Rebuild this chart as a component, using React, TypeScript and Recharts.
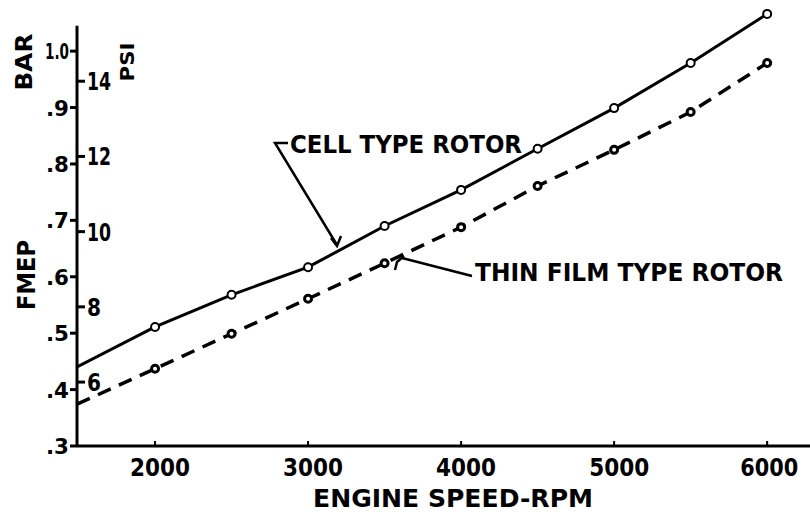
import { Line, LineChart, ReferenceLine, XAxis, YAxis } from 'recharts'

const FONT = '"DejaVu Sans", sans-serif'

const rpm = [1490, 2000, 2500, 3000, 3500, 4000, 4500, 5000, 5500, 6000]
const cellRotor = [0.44, 0.511, 0.568, 0.617, 0.69, 0.754, 0.827, 0.899, 0.979, 1.066]
const thinFilmRotor = [0.374, 0.437, 0.499, 0.561, 0.624, 0.688, 0.761, 0.825, 0.892, 0.979]

const rpmTicks = [2000, 3000, 4000, 5000, 6000]
const barTicks = [0.3, 0.4, 0.5, 0.6, 0.7, 0.8, 0.9, 1.0]
const barLabels = ['.3', '.4', '.5', '.6', '.7', '.8', '.9', '1.0']
const psiTicks = [6, 8, 10, 12, 14]

const data = rpm.map((r, i) => ({ rpm: r, cell: cellRotor[i], thin: thinFilmRotor[i] }))

function XTick({ x, y, payload }: any) {
  const last = payload.value === rpmTicks[rpmTicks.length - 1]
  return (
    <g>
      <line x1={x} y1={y} x2={x} y2={y - 5} stroke="#000" strokeWidth={2} />
      <text
        x={last ? x + 2 : x + 5}
        y={y + 30}
        textAnchor="middle"
        fontFamily={FONT}
        fontWeight="bold"
        fontSize={24}
        textLength={last ? 58 : 60}
        lengthAdjust="spacingAndGlyphs"
      >
        {payload.value}
      </text>
    </g>
  )
}

function BarTick({ x, y, payload }: any) {
  const label = barLabels[barTicks.indexOf(payload.value)]
  return (
    <g>
      <line x1={x - 7} y1={y} x2={x} y2={y} stroke="#000" strokeWidth={3} />
      <text
        x={x - 8}
        y={y + 8}
        textAnchor="end"
        fontFamily={FONT}
        fontWeight="bold"
        fontSize={22}
        textLength={label.length > 2 ? 24 : 23}
        lengthAdjust="spacingAndGlyphs"
      >
        {label}
      </text>
    </g>
  )
}

function PsiTick({ x, y, payload }: any) {
  return (
    <g>
      <line x1={x} y1={y} x2={x + 8} y2={y} stroke="#000" strokeWidth={3} />
      <text
        x={x + 10}
        y={y + 9}
        textAnchor="start"
        fontFamily={FONT}
        fontWeight="bold"
        fontSize={25}
        textLength={payload.value >= 10 ? 24 : 14}
        lengthAdjust="spacingAndGlyphs"
      >
        {payload.value}
      </text>
    </g>
  )
}

function dotFor(kind: 'cell' | 'thin') {
  return (p: any) => {
    if (p.index === 0) return <g key={p.key} />
    return (
      <circle
        key={p.key}
        cx={p.cx}
        cy={p.cy}
        r={kind === 'cell' ? 4 : 3.5}
        fill="#fff"
        stroke="#000"
        strokeWidth={kind === 'cell' ? 2 : 3}
      />
    )
  }
}

export default function App() {
  const txt = { fontFamily: FONT, fontWeight: 'bold' as const }
  return (
    <div style={{ position: 'relative', width: 810, height: 512, background: '#fff' }}>
      <style>{'body{margin:0}'}</style>
      <LineChart width={810} height={512} data={data} margin={{ top: 6, right: 0, left: 0, bottom: 0 }}>
        <XAxis
          dataKey="rpm"
          type="number"
          domain={[1490, 6280]}
          allowDataOverflow
          ticks={rpmTicks}
          interval={0}
          height={66}
          axisLine={{ stroke: '#000', strokeWidth: 3 }}
          tickLine={false}
          tickSize={0}
          tickMargin={0}
          tick={(p: any) => <XTick {...p} />}
        />
        <YAxis
          yAxisId="bar"
          type="number"
          domain={[0.3, 1.08]}
          allowDataOverflow
          ticks={barTicks}
          interval={0}
          width={77}
          axisLine={false}
          tickLine={false}
          tickSize={0}
          tickMargin={0}
          tick={(p: any) => <BarTick {...p} />}
        />
        <YAxis
          yAxisId="psi"
          type="number"
          mirror
          domain={[4.3, 16.0]}
          allowDataOverflow
          ticks={psiTicks}
          interval={0}
          width={60}
          axisLine={false}
          tickLine={false}
          tickSize={0}
          tickMargin={0}
          tick={(p: any) => <PsiTick {...p} />}
        />
        <ReferenceLine
          yAxisId="bar"
          segment={[
            { x: 1490, y: 0.3 },
            { x: 1490, y: 1.045 },
          ]}
          stroke="#000"
          strokeWidth={3}
        />
        <Line
          yAxisId="bar"
          dataKey="cell"
          stroke="#000"
          strokeWidth={3}
          dot={dotFor('cell')}
          isAnimationActive={false}
        />
        <Line
          yAxisId="bar"
          dataKey="thin"
          stroke="#000"
          strokeWidth={3.5}
          strokeDasharray="14 9"
          dot={dotFor('thin')}
          isAnimationActive={false}
        />
      </LineChart>
      <svg
        width={810}
        height={512}
        style={{ position: 'absolute', left: 0, top: 0, pointerEvents: 'none' }}
      >
        <text {...txt} fontSize={23} textAnchor="middle" textLength={57} lengthAdjust="spacingAndGlyphs" transform="translate(32,62) rotate(-90)">
          BAR
        </text>
        <text {...txt} fontSize={19} textAnchor="middle" textLength={39} lengthAdjust="spacingAndGlyphs" transform="translate(134,62) rotate(-90)">
          PSI
        </text>
        <text {...txt} fontSize={24} textAnchor="middle" textLength={70} lengthAdjust="spacingAndGlyphs" transform="translate(35,275) rotate(-90)">
          FMEP
        </text>
        <path d="M288,143 L275,143 L337,245 M331,238 L337,246 L341,236" fill="none" stroke="#000" strokeWidth={2.5} />
        <text {...txt} fontSize={25} x={290} y={153} textLength={232} lengthAdjust="spacingAndGlyphs">
          CELL TYPE ROTOR
        </text>
        <path d="M472,276 L402,258 M404,256 L397,262 L395,270" fill="none" stroke="#000" strokeWidth={2.5} />
        <text {...txt} fontSize={24} x={475} y={281} textLength={308} lengthAdjust="spacingAndGlyphs">
          THIN FILM TYPE ROTOR
        </text>
        <text {...txt} fontSize={24} x={313} y={507} textLength={280} lengthAdjust="spacingAndGlyphs">
          ENGINE SPEED-RPM
        </text>
      </svg>
    </div>
  )
}
